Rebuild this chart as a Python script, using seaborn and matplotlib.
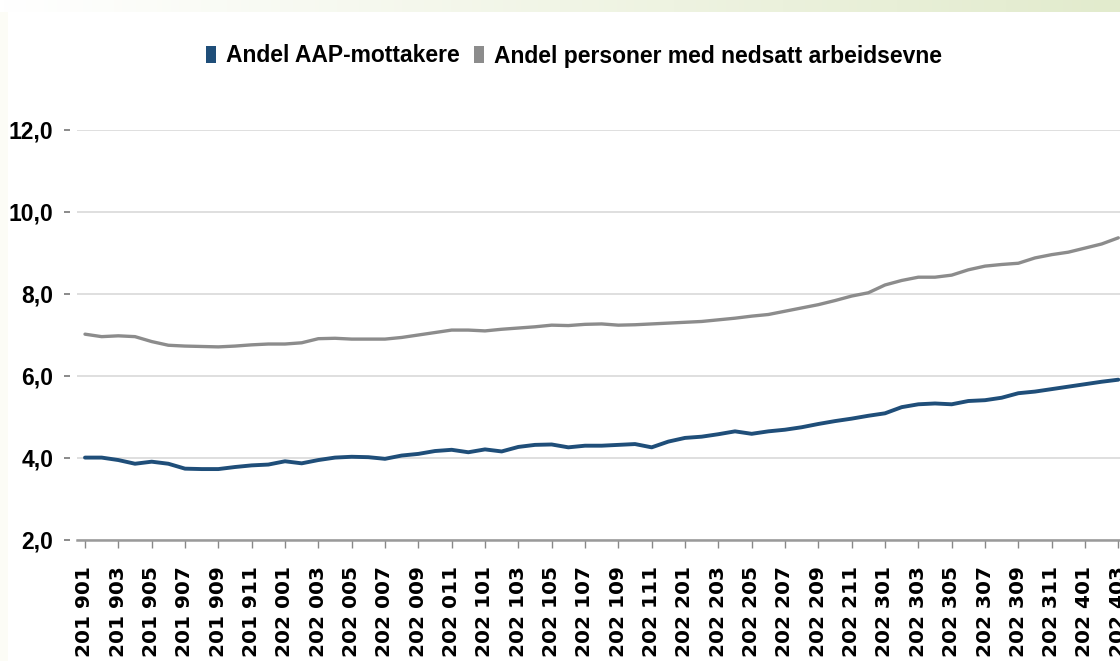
import numpy as np
import pandas as pd
import matplotlib
matplotlib.use("Agg")
import matplotlib.pyplot as plt
from matplotlib import font_manager
from matplotlib.patches import Patch
from matplotlib.colors import LinearSegmentedColormap
import seaborn as sns

# ---- data ----
months = [f"{y}{m:02d}" for y in range(2019, 2025) for m in range(1, 13)][:63]  # 201901 .. 202403
month_labels = [f"{m[:3]} {m[3:]}" for m in months]

aap = [4.01, 4.01, 3.95, 3.86, 3.91, 3.86, 3.74, 3.73, 3.73, 3.78,
       3.82, 3.84, 3.92, 3.87, 3.95, 4.01, 4.03, 4.02, 3.98, 4.06,
       4.10, 4.17, 4.20, 4.14, 4.21, 4.16, 4.27, 4.32, 4.33, 4.26,
       4.30, 4.30, 4.32, 4.34, 4.26, 4.40, 4.49, 4.52, 4.58, 4.65,
       4.59, 4.65, 4.69, 4.75, 4.83, 4.90, 4.96, 5.03, 5.09, 5.24,
       5.31, 5.33, 5.31, 5.39, 5.41, 5.47, 5.58, 5.62, 5.68, 5.74,
       5.80, 5.86, 5.91]

nedsatt = [7.02, 6.96, 6.98, 6.96, 6.84, 6.75, 6.73, 6.72, 6.71, 6.73,
           6.76, 6.78, 6.78, 6.81, 6.91, 6.92, 6.90, 6.90, 6.90, 6.94,
           7.00, 7.06, 7.12, 7.12, 7.10, 7.14, 7.17, 7.20, 7.24, 7.23,
           7.26, 7.27, 7.24, 7.25, 7.27, 7.29, 7.31, 7.33, 7.37, 7.41,
           7.46, 7.50, 7.58, 7.66, 7.74, 7.84, 7.95, 8.03, 8.22, 8.33,
           8.41, 8.41, 8.46, 8.59, 8.68, 8.72, 8.75, 8.88, 8.96, 9.02,
           9.12, 9.22, 9.37]

series_names = ["Andel AAP-mottakere", "Andel personer med nedsatt arbeidsevne"]
yticks = [2.0, 4.0, 6.0, 8.0, 10.0, 12.0]
ytick_labels = ["2,0", "4,0", "6,0", "8,0", "10,0", "12,0"]

BLUE = "#1f4e79"
GRAY = "#8c8c8c"

df = pd.DataFrame({
    "idx": list(range(len(months))) * 2,
    "value": aap + nedsatt,
    "series": [series_names[0]] * len(months) + [series_names[1]] * len(months),
})

# ---- fonts ----
sns.set_theme(style="white")
names = {f.name for f in font_manager.fontManager.ttflist}
if "Liberation Sans Narrow" in names:
    NARROW = "Liberation Sans Narrow"
    leg_size, ytick_size = 19, 19
else:
    NARROW = "Liberation Sans"
    leg_size, ytick_size = 16.5, 16.5
plt.rcParams["font.family"] = [NARROW, "DejaVu Sans"]
plt.rcParams["text.color"] = "black"

W, H = 1120, 661
fig = plt.figure(figsize=(W / 100, H / 100), dpi=100)
fig.patch.set_facecolor("white")

# subtle decorative background strips
top = fig.add_axes([0, 1 - 12 / H, 1, 12 / H])
grad = np.linspace(0, 1, 256)[None, :]
cmap = LinearSegmentedColormap.from_list("g", ["#ffffff", "#f1f5e6", "#e2ebcd"])
top.imshow(grad, aspect="auto", cmap=cmap, extent=[0, 1, 0, 1])
top.axis("off")
left = fig.add_axes([0, 0, 8 / W, 1 - 12 / H])
left.set_facecolor("#fcfcf6")
left.set_xticks([]); left.set_yticks([])
for s in left.spines.values():
    s.set_visible(False)

ax = fig.add_axes([77 / W, (H - 540) / H, 1 - 77 / W, (540 - 130) / H])
ax.set_facecolor("none")
# position spine first (this resets tick properties)
ax.spines["left"].set_position(("outward", 5))
ax.spines["left"].set_visible(False)
for side in ["top", "right"]:
    ax.spines[side].set_visible(False)

sns.lineplot(data=df[df.series == series_names[1]], x="idx", y="value",
             color=GRAY, linewidth=2.4, ax=ax, legend=False)
sns.lineplot(data=df[df.series == series_names[0]], x="idx", y="value",
             color=BLUE, linewidth=2.8, ax=ax, legend=False)

ax.set_xlim(-0.48, 62.1)
ax.set_ylim(2, 12)
ax.set_xlabel("")
ax.set_ylabel("")

ax.grid(axis="y", color="#dcdcdc", linewidth=1.3)
ax.grid(axis="x", visible=False)
ax.spines["bottom"].set_color("#9a9a9a")
ax.spines["bottom"].set_linewidth(1.8)
ax.tick_params(axis="y", direction="out", length=4, width=1.2, color="#777777",
               pad=8, left=True)
ax.tick_params(axis="x", direction="out", length=6, width=1.0, color="#888888",
               pad=13, bottom=True)

ax.set_yticks(yticks)
ax.set_yticklabels(ytick_labels, fontsize=ytick_size, fontweight="bold",
                   family=[NARROW, "DejaVu Sans"], color="black")
ax.set_xticks(list(range(0, len(months), 2)))
ax.set_xticklabels(month_labels[::2], rotation=90, fontsize=14.5,
                   fontweight="bold", family=["DejaVu Sans"], color="black")

handles = [Patch(facecolor=BLUE, edgecolor="none"), Patch(facecolor=GRAY, edgecolor="none")]
leg = fig.legend(handles, series_names, loc="center", bbox_to_anchor=(574 / W, 1 - 56 / H),
                 ncol=2, frameon=False, handlelength=0.45, handleheight=0.75,
                 handletextpad=0.45, columnspacing=0.6,
                 prop={"family": [NARROW, "DejaVu Sans"], "weight": "bold", "size": leg_size})
for t in leg.get_texts():
    t.set_color("black")

fig.savefig("out.png", dpi=100, facecolor="white")
